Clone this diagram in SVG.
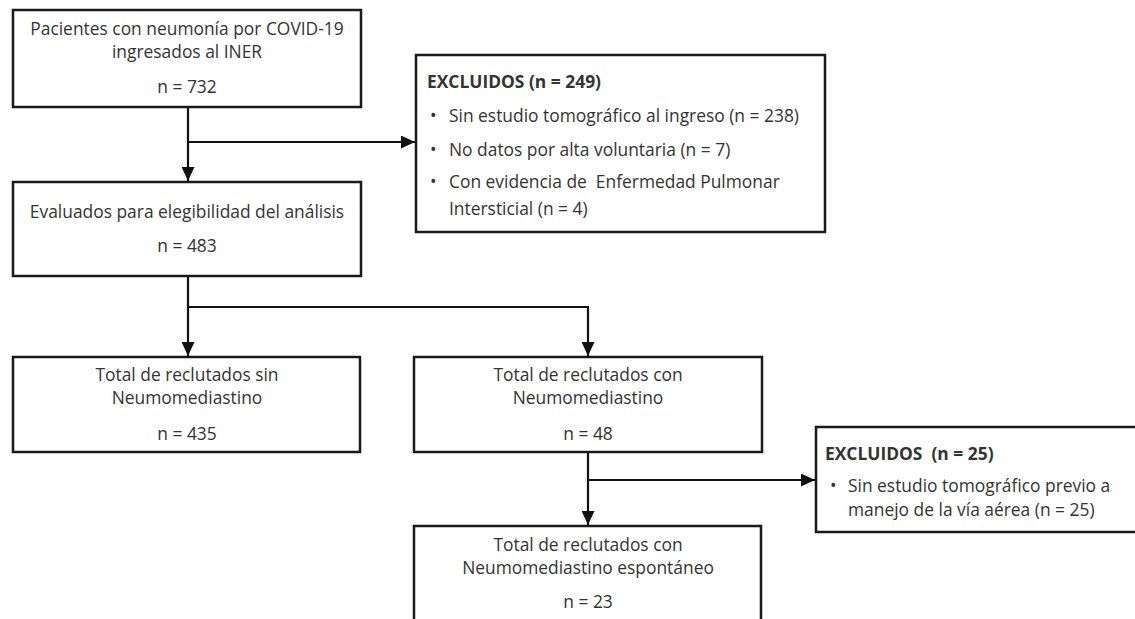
<svg xmlns="http://www.w3.org/2000/svg" width="1135" height="619" viewBox="0 0 1135 619">
<defs>
<marker id="ah" viewBox="0 0 14 13" refX="14" refY="6.5" markerWidth="14" markerHeight="13" markerUnits="userSpaceOnUse" orient="auto"><path d="M0,0 L14,6.5 L0,13 Z" fill="#111"/></marker>
</defs>
<style>
.box{fill:#fff;stroke:#1a1a1a;stroke-width:2.5}
.t{font-family:"Open Sans","Noto Sans",sans-serif;font-size:17.4px;fill:#333;white-space:pre}
.c{text-anchor:middle}
.b{font-weight:bold}
.ln{fill:none;stroke:#111;stroke-width:2.2}
</style>
<rect width="1135" height="619" fill="#fff"/>
<g id="connectors">
<path class="ln" d="M188,107 V181" marker-end="url(#ah)"/>
<path class="ln" d="M188,142 H415" marker-end="url(#ah)"/>
<path class="ln" d="M188,276 V356" marker-end="url(#ah)"/>
<path class="ln" d="M188,307 H588 V356" marker-end="url(#ah)"/>
<path class="ln" d="M588,452 V525" marker-end="url(#ah)"/>
<path class="ln" d="M588,480 H815" marker-end="url(#ah)"/>
</g>
<g id="n1">
<rect class="box" x="13" y="10" width="348" height="97"/>
<text class="t c" x="187" y="34.5">Pacientes con neumonía por COVID-19</text>
<text class="t c" x="187" y="58">ingresados al INER</text>
<text class="t c" x="187" y="93">n = 732</text>
</g>
<g id="n2">
<rect class="box" x="13" y="182" width="348" height="94"/>
<text class="t c" x="187" y="218">Evaluados para elegibilidad del análisis</text>
<text class="t c" x="187" y="252">n = 483</text>
</g>
<g id="excl1">
<rect class="box" x="416" y="55" width="409" height="177"/>
<text class="t b" x="427" y="88">EXCLUIDOS (n = 249)</text>
<text class="t" x="430" y="122">•</text>
<text class="t" x="449" y="122">Sin estudio tomográfico al ingreso (n = 238)</text>
<text class="t" x="430" y="156">•</text>
<text class="t" x="449" y="156">No datos por alta voluntaria (n = 7)</text>
<text class="t" x="430" y="188">•</text>
<text class="t" x="449" y="188">Con evidencia de  Enfermedad Pulmonar</text>
<text class="t" x="449" y="215">Intersticial (n = 4)</text>
</g>
<g id="n3">
<rect class="box" x="13" y="357" width="347" height="95"/>
<text class="t c" x="187" y="380.5">Total de reclutados sin</text>
<text class="t c" x="187" y="404">Neumomediastino</text>
<text class="t c" x="187" y="440">n = 435</text>
</g>
<g id="n4">
<rect class="box" x="414" y="357" width="348" height="95"/>
<text class="t c" x="588" y="380.5">Total de reclutados con</text>
<text class="t c" x="588" y="404">Neumomediastino</text>
<text class="t c" x="588" y="440">n = 48</text>
</g>
<g id="excl2">
<rect class="box" x="816" y="427" width="340" height="105"/>
<text class="t b" x="825" y="460">EXCLUIDOS  (n = 25)</text>
<text class="t" x="830" y="492">•</text>
<text class="t" x="848" y="492">Sin estudio tomográfico previo a</text>
<text class="t" x="848" y="516">manejo de la vía aérea (n = 25)</text>
</g>
<g id="n5">
<rect class="box" x="414" y="526" width="347" height="110"/>
<text class="t c" x="588" y="550.5">Total de reclutados con</text>
<text class="t c" x="588" y="574">Neumomediastino espontáneo</text>
<text class="t c" x="588" y="608">n = 23</text>
</g>
</svg>
